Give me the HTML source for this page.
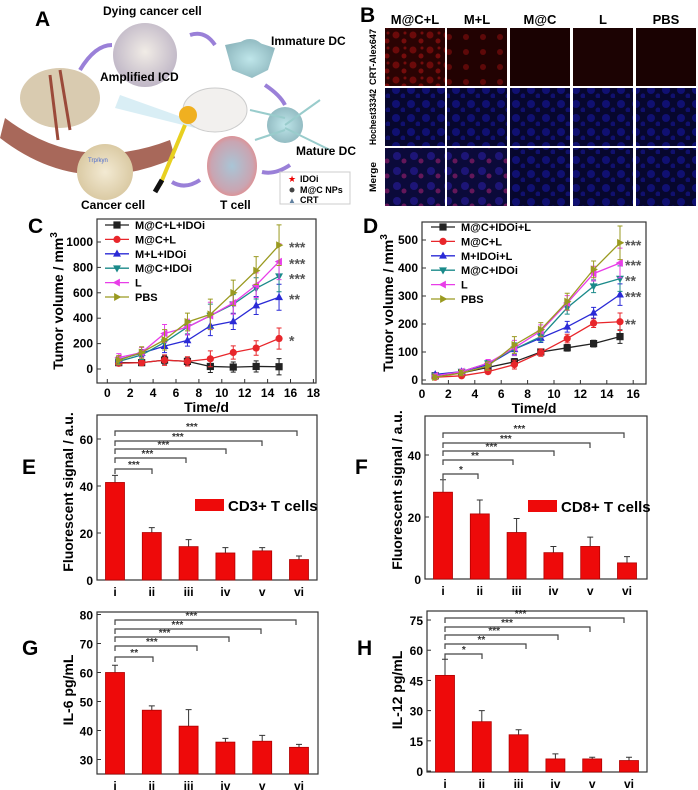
<!DOCTYPE html>
<html><head><meta charset="utf-8">
<style>
html,body{margin:0;padding:0;background:#fff;}
svg{display:block;font-family:"Liberation Sans",Arial,sans-serif;}
.pl{font-weight:bold;font-size:21px;}
.tk{font-weight:bold;font-size:12px;}
.tt{font-weight:bold;font-size:14px;}
.lg{font-weight:bold;font-size:11px;}
.an{font-weight:bold;font-size:12px;}
</style></head>
<body>
<svg id="fig" width="698" height="790" viewBox="0 0 698 790" xmlns="http://www.w3.org/2000/svg">
<defs>
<radialGradient id="gcell" cx="50%" cy="45%" r="55%"><stop offset="0" stop-color="#f1ece6"/><stop offset="1" stop-color="#bfb6c6"/></radialGradient>
<radialGradient id="gtc" cx="50%" cy="50%" r="55%"><stop offset="0" stop-color="#a9c5d6"/><stop offset="0.75" stop-color="#c9a5b2"/><stop offset="1" stop-color="#e68a8a"/></radialGradient>
<radialGradient id="gcc" cx="50%" cy="50%" r="55%"><stop offset="0" stop-color="#f3ead3"/><stop offset="1" stop-color="#d8c79f"/></radialGradient>
<radialGradient id="gdc" cx="50%" cy="50%" r="55%"><stop offset="0" stop-color="#bfe6ea"/><stop offset="1" stop-color="#8fb8bf"/></radialGradient>
<pattern id="pred" width="17" height="15" patternUnits="userSpaceOnUse"><rect width="17" height="15" fill="#2a0303"/><circle cx="5" cy="5" r="3.5" fill="#a01010" opacity=".55"/><circle cx="13" cy="11" r="2.5" fill="#c01515" opacity=".5"/><circle cx="14" cy="3" r="1.5" fill="#c01515" opacity=".5"/></pattern>
<pattern id="pred2" width="17" height="15" patternUnits="userSpaceOnUse"><rect width="17" height="15" fill="#220202"/><circle cx="7" cy="7" r="3" fill="#9a1010" opacity=".5"/></pattern>
<pattern id="pblue" width="15" height="14" patternUnits="userSpaceOnUse"><rect width="15" height="14" fill="#07072e"/><circle cx="6" cy="6" r="4" fill="#1616a0" opacity=".6"/><circle cx="13" cy="12" r="2.5" fill="#1a1ab0" opacity=".5"/></pattern>
<pattern id="pmerge" width="17" height="15" patternUnits="userSpaceOnUse"><rect width="17" height="15" fill="#0b0a3a"/><circle cx="6" cy="6" r="4" fill="#2a1ca0" opacity=".6"/><circle cx="13" cy="11" r="2.5" fill="#a02070" opacity=".6"/></pattern>
</defs>

<g>
<text class="pl" x="35" y="26">A</text>
<path d="M5,118 Q80,175 170,140 L175,158 Q80,200 0,138 Z" fill="#a8685a"/>
<ellipse cx="60" cy="98" rx="40" ry="30" fill="#d9cbb0"/>
<path d="M60,70 L70,130 M50,75 L58,140" stroke="#9b4a3a" stroke-width="3" fill="none"/>
<circle cx="145" cy="55" r="32" fill="url(#gcell)"/>
<path d="M120,95 L190,120 L195,128 L115,108 Z" fill="#bfe3ee" opacity=".6"/>
<ellipse cx="215" cy="110" rx="32" ry="22" fill="#f2f0ee" stroke="#ccc"/>
<circle cx="188" cy="115" r="9" fill="#f0b020"/>
<path d="M185,125 L160,185" stroke="#e8d020" stroke-width="4"/>
<path d="M162,180 L155,192" stroke="#111" stroke-width="5"/>
<g fill="url(#gdc)"><circle cx="250" cy="55" r="16"/><path d="M225,45 L250,40 L275,48 L268,70 L252,78 L232,70 Z"/></g>
<g fill="url(#gdc)"><circle cx="285" cy="125" r="18"/><path d="M250,110 L285,118 M320,100 L285,125 M255,140 L285,130 M330,150 L285,128" stroke="#9cc" stroke-width="2"/></g>
<ellipse cx="232" cy="166" rx="25" ry="30" fill="url(#gtc)"/>
<circle cx="105" cy="172" r="28" fill="url(#gcc)"/>
<text x="88" y="162" font-size="6" fill="#4a6ad0">Trp/kyn</text>
<g fill="none" stroke="#9a80d8" stroke-width="4">
<path d="M80,70 Q95,45 112,45"/><path d="M190,35 Q205,30 215,45"/><path d="M265,85 Q280,95 285,105"/><path d="M290,165 Q275,175 262,172"/><path d="M200,180 Q185,190 172,182"/>
</g>
<text class="an" x="103" y="15">Dying cancer cell</text>
<text class="an" x="271" y="45">Immature DC</text>
<text class="an" x="100" y="81">Amplified ICD</text>
<text class="an" x="296" y="155">Mature DC</text>
<text class="an" x="81" y="209">Cancer cell</text>
<text class="an" x="220" y="209">T cell</text>
<g>
<rect x="280" y="172" width="70" height="32" fill="#fff" stroke="#ccc"/>
<text x="288" y="182" font-size="9" fill="#e00">★</text><text x="300" y="182" font-size="9" font-weight="bold">IDOi</text>
<circle cx="292" cy="190" r="2.5" fill="#444"/><text x="300" y="193" font-size="9" font-weight="bold">M@C NPs</text>
<text x="288" y="203" font-size="8" fill="#6080a0">▲</text><text x="300" y="203" font-size="9" font-weight="bold">CRT</text>
</g>
</g>

<g id="panelB">
<text class="pl" x="360" y="22">B</text>
</g>

<g id="charts"></g>
</svg>

<script>
// ---------- Panel C data ----------
const cDays = [1, 3, 5, 7, 9, 11, 13, 15];
const cNames = ["M@C+L+IDOi", "M@C+L", "M+L+IDOi", "M@C+IDOi", "L", "PBS"];
const cBlack = [50, 50, 70, 60, 20, 15, 20, 18];
const cRed = [45, 50, 70, 60, 80, 130, 165, 240];
const cBlue = [75, 125, 180, 225, 340, 375, 500, 565];
const cTeal = [60, 110, 210, 330, 420, 510, 635, 730];
const cMagenta = [90, 130, 280, 330, 420, 520, 660, 845];
const cOlive = [70, 130, 230, 370, 430, 600, 775, 975];
const cErr = [35, 45, 80, 70, 120, 100, 110, 160];
const cStars = ["***", "***", "***", "**", "*"];
const cXTicks = [0, 2, 4, 6, 8, 10, 12, 14, 16, 18];
const cYTicks = [0, 200, 400, 600, 800, 1000];

// ---------- Panel D data ----------
const dDays = [1, 3, 5, 7, 9, 11, 13, 15];
const dNames = ["M@C+IDOi+L", "M@C+L", "M+IDOi+L", "M@C+IDOi", "L", "PBS"];
const dBlack = [15, 25, 45, 65, 100, 115, 130, 155];
const dRed = [10, 15, 30, 55, 98, 148, 203, 208];
const dBlue = [20, 30, 55, 110, 150, 190, 240, 305];
const dTeal = [15, 30, 60, 110, 155, 258, 335, 362];
const dMagenta = [15, 30, 60, 115, 175, 275, 380, 418];
const dOlive = [10, 25, 50, 125, 180, 280, 395, 490];
const dErr = [8, 10, 15, 30, 25, 30, 30, 60];
const dStars = ["***", "***", "**", "***", "**"];
const dXTicks = [0, 2, 4, 6, 8, 10, 12, 14, 16];
const dYTicks = [0, 100, 200, 300, 400, 500];

// ---------- Bar panels ----------
const groups = ["i", "ii", "iii", "iv", "v", "vi"];
const eVals = [41.5, 20.2, 14.2, 11.5, 12.4, 8.7];
const eErrTop = [44.5, 22.3, 17.2, 13.8, 13.8, 10.2];
const eSig = ["***", "***", "***", "***", "***"];
const eYTicks = [0, 20, 40, 60];
const fVals = [28, 21, 15, 8.5, 10.5, 5.2];
const fErrTop = [32, 25.5, 19.5, 10.5, 13.5, 7.2];
const fSig = ["*", "**", "***", "***", "***"];
const fYTicks = [0, 20, 40];
const gVals = [60, 47, 41.5, 36, 36.3, 34.2];
const gErrTop = [62.5, 48.5, 47.2, 37.3, 38.3, 35.2];
const gSig = ["**", "***", "***", "***", "***"];
const gYTicks = [30, 40, 50, 60, 70, 80];
const hVals = [47.5, 24.5, 18, 6, 6, 5.2];
const hErrTop = [55.5, 30, 20.5, 8.5, 6.8, 6.8];
const hSig = ["*", "**", "***", "***", "***"];
const hYTicks = [0, 15, 30, 45, 60, 75];

// ---------- Panel B ----------
const bCols = ["M@C+L", "M+L", "M@C", "L", "PBS"];
const bRows = ["CRT-Alex647", "Hochest33342", "Merge"];

const NS = "http://www.w3.org/2000/svg";
function mk(parent, tag, attrs, text) {
  const e = document.createElementNS(NS, tag);
  for (const k in attrs) e.setAttribute(k, attrs[k]);
  if (text !== undefined) e.textContent = text;
  parent.appendChild(e);
  return e;
}
const root = document.getElementById("charts");

(function () {
  const pb = document.getElementById("panelB");
  const colX = [385, 447, 510, 573, 636];
  const rowY = [28, 88, 148];
  const fills = [["url(#pred)", "url(#pred2)", "#1a0202", "#1c0303", "#1a0202"],
                 ["url(#pblue)", "url(#pblue)", "url(#pblue)", "url(#pblue)", "url(#pblue)"],
                 ["url(#pmerge)", "url(#pmerge)", "url(#pblue)", "url(#pblue)", "url(#pblue)"]];
  bCols.forEach((c, i) => {
    const t = mk(pb, "text", {x: colX[i] + 30, y: 24, "text-anchor": "middle", "font-size": 13, "font-weight": "bold"}, c);
    
    
  });
  bRows.forEach((r, j) => {
    const t = mk(pb, "text", {x: 0, y: 0, "text-anchor": "middle", "font-size": 9, "font-weight": "bold", textLength: r.length > 6 ? 56 : 30, lengthAdjust: "spacingAndGlyphs", transform: `translate(376,${rowY[j] + 29}) rotate(-90)`}, r);
    
    
    colX.forEach((x, i) => {
      const rc = mk(pb, "rect", {x: x, y: rowY[j], width: 60, height: 58, fill: fills[j][i]});
      
      
    });
  });
})();

function frame(g, x0, y0, x1, y1) {
  const r = mk(g, "rect", {x: x0, y: y0, width: x1 - x0, height: y1 - y0, fill: "none", stroke: "#333", "stroke-width": 1.2});
  
  
}
function marker(g, type, x, y, col) {
  const s = 3.6;
  let el;
  if (type === 0) el = mk(g, "rect", {x: x - s, y: y - s, width: 2 * s, height: 2 * s, fill: col});
  else if (type === 1) el = mk(g, "circle", {cx: x, cy: y, r: s, fill: col});
  else {
    const pts = {2: [[0, -1.2], [-1.1, .8], [1.1, .8]], 3: [[0, 1.2], [-1.1, -.8], [1.1, -.8]], 4: [[-1.2, 0], [.8, -1.1], [.8, 1.1]], 5: [[1.2, 0], [-.8, -1.1], [-.8, 1.1]]}[type];
    el = mk(g, "polygon", {points: pts.map(p => (x + p[0] * s) + "," + (y + p[1] * s)).join(" "), fill: col});
  }
  
  
}

const lineColors = ["#222222", "#e8262b", "#2a2ad6", "#1a8a8a", "#e83de8", "#9a9a20"];

function lineChart(cfg) {
  const g = mk(root, "g", {});
  
  
  const X = v => cfg.xa + v * cfg.xs, Y = v => cfg.ya - v * cfg.ys;
  frame(g, cfg.box[0], cfg.box[1], cfg.box[2], cfg.box[3]);
  cfg.xt.forEach(v => {
    mk(g, "line", {x1: X(v), x2: X(v), y1: cfg.box[3], y2: cfg.box[3] - 4, stroke: "#333"});
    const t = mk(g, "text", {x: X(v), y: cfg.box[3] + 14, "text-anchor": "middle", class: "tk"}, v);
    
    
  });
  cfg.yt.forEach(v => {
    mk(g, "line", {x1: cfg.box[0], x2: cfg.box[0] + 4, y1: Y(v), y2: Y(v), stroke: "#333"});
    const t = mk(g, "text", {x: cfg.box[0] - 4, y: Y(v) + 4, "text-anchor": "end", class: "tk"}, v);
    
    
  });
  cfg.series.forEach((s, k) => {
    const col = lineColors[k];
    s.forEach((v, i) => {
      const e = cfg.err[i] * (0.4 + 0.12 * k);
      mk(g, "path", {d: `M${X(cfg.days[i])},${Y(v - e)}V${Y(v + e)}M${X(cfg.days[i]) - 2.5},${Y(v + e)}h5M${X(cfg.days[i]) - 2.5},${Y(v - e)}h5`, stroke: col, "stroke-width": 1, fill: "none"});
    });
    const ln = mk(g, "polyline", {points: s.map((v, i) => X(cfg.days[i]) + "," + Y(v)).join(" "), fill: "none", stroke: col, "stroke-width": 1.3});
    
    
    s.forEach((v, i) => marker(g, k, X(cfg.days[i]), Y(v), col));
    const ly = cfg.leg[1] + k * 14.4;
    mk(g, "line", {x1: cfg.leg[0], x2: cfg.leg[0] + 24, y1: ly, y2: ly, stroke: col, "stroke-width": 1.3});
    marker(g, k, cfg.leg[0] + 12, ly, col);
    const t = mk(g, "text", {x: cfg.leg[0] + 30, y: ly + 4, class: "lg"}, cfg.names[k]);
    
    
  });
  [5, 4, 3, 2, 1].forEach((k, j) => {
    const last = cfg.series[k][cfg.series[k].length - 1];
    const t = mk(g, "text", {x: cfg.starX, y: Y(last) + 7, "font-size": 14, fill: "#555", "font-weight": "bold"}, cfg.stars[j]);
    
    
  });
  const xt = mk(g, "text", {x: (cfg.box[0] + cfg.box[2]) / 2, y: cfg.box[3] + 29, "text-anchor": "middle", class: "tt"}, "Time/d");
  
  
  const yt = mk(g, "text", {x: 0, y: 0, "text-anchor": "middle", class: "tt", "font-size": 15, transform: `translate(${cfg.ytx},${(cfg.box[1] + cfg.box[3]) / 2}) rotate(-90)`});
  
  
  yt.textContent = "Tumor volume / mm";
  mk(yt, "tspan", {dy: -6, "font-size": 10}, "3");
  const pl = mk(g, "text", {x: cfg.lab[0], y: cfg.lab[1], class: "pl"}, cfg.label);
  
  
}

lineChart({name: "panel-c-tumor-growth", label: "C", lab: [28, 233], box: [97, 219, 316, 383], xa: 107.3, xs: 11.45, ya: 369, ys: 0.127,
  xt: cXTicks, yt: cYTicks, days: cDays, series: [cBlack, cRed, cBlue, cTeal, cMagenta, cOlive], err: cErr, names: cNames,
  leg: [105, 225], stars: cStars, starX: 289, ytx: 63});
lineChart({name: "panel-d-tumor-growth", label: "D", lab: [363, 233], box: [422, 222, 646, 384], xa: 422, xs: 13.2, ya: 380, ys: 0.28,
  xt: dXTicks, yt: dYTicks, days: dDays, series: [dBlack, dRed, dBlue, dTeal, dMagenta, dOlive], err: dErr, names: dNames,
  leg: [431, 227], stars: dStars, starX: 625, ytx: 393});

function barChart(cfg) {
  const g = mk(root, "g", {});
  
  
  const Y = v => cfg.y0 - (v - cfg.vmin) * cfg.ys;
  const X = i => cfg.x0 + i * cfg.dx;
  frame(g, cfg.box[0], cfg.box[1], cfg.box[2], cfg.box[3]);
  cfg.yt.forEach(v => {
    mk(g, "line", {x1: cfg.box[0], x2: cfg.box[0] + 4, y1: Y(v), y2: Y(v), stroke: "#333"});
    const t = mk(g, "text", {x: cfg.box[0] - 4, y: Y(v) + 5, "text-anchor": "end", class: "tk", "font-size": 13}, v);
    
    
  });
  groups.forEach((gname, i) => {
    const t = mk(g, "text", {x: X(i), y: cfg.box[3] + 16, "text-anchor": "middle", class: "tk", "font-size": 13}, gname);
    
    
    const top = cfg.err[i];
    mk(g, "path", {d: `M${X(i)},${Y(cfg.vals[i])}V${Y(top)}M${X(i) - 3},${Y(top)}h6`, stroke: "#333", "stroke-width": 1});
    const b = mk(g, "rect", {x: X(i) - 9.5, y: Y(cfg.vals[i]), width: 19, height: cfg.box[3] - Y(cfg.vals[i]), fill: "#ee0a0a", stroke: "#b00000", "stroke-width": 0.8});
    
    
  });
  cfg.sig.forEach((s, j) => {
    const by = cfg.brY[j], xe = cfg.brEnd[j];
    const br = mk(g, "path", {d: `M${X(0)},${by + 5}V${by}H${xe}V${by + 5}`, stroke: "#444", "stroke-width": 1.2, fill: "none"});
    
    
    const t = mk(g, "text", {x: X(0) + (xe - X(0)) * 0.4 + 4, y: by - 1, "text-anchor": "middle", "font-size": 10, "font-weight": "bold", fill: "#333"}, s);
    
    
  });
  if (cfg.legend) {
    const r = mk(g, "rect", {x: cfg.legend[0], y: cfg.legend[1], width: 29, height: 12, fill: "#ee0a0a"});
    
    
    const t = mk(g, "text", {x: cfg.legend[0] + 33, y: cfg.legend[1] + 12, "font-size": 15, "font-weight": "bold"}, cfg.legend[2]);
    
    
  }
  const yt = mk(g, "text", {x: 0, y: 0, "text-anchor": "middle", class: "tt", "font-size": 15, transform: `translate(${cfg.ytx},${cfg.ytc}) rotate(-90)`}, cfg.ytitle);
  
  
  const pl = mk(g, "text", {x: cfg.lab[0], y: cfg.lab[1], class: "pl"}, cfg.label);
  
  
}

barChart({name: "panel-e-cd3", label: "E", lab: [22, 474], box: [97, 415, 317, 580], y0: 580, ys: 2.35, vmin: 0, yt: eYTicks,
  x0: 115, dx: 36.8, vals: eVals, err: eErrTop, sig: eSig, brY: [469, 458, 449, 441, 431], brEnd: [152, 186, 226, 262, 297],
  legend: [195, 499, "CD3+ T cells"], ytitle: "Fluorescent signal / a.u.", ytx: 73, ytc: 492});
barChart({name: "panel-f-cd8", label: "F", lab: [355, 474], box: [425, 416, 647, 579], y0: 579, ys: 3.1, vmin: 0, yt: fYTicks,
  x0: 443, dx: 36.8, vals: fVals, err: fErrTop, sig: fSig, brY: [474, 460, 451, 443, 433], brEnd: [478, 513, 554, 590, 624],
  legend: [528, 500, "CD8+ T cells"], ytitle: "Fluorescent signal / a.u.", ytx: 402, ytc: 490});
barChart({name: "panel-g-il6", label: "G", lab: [22, 655], box: [97, 612, 318, 774], y0: 774, ys: 2.9, vmin: 25, yt: gYTicks,
  x0: 115, dx: 36.8, vals: gVals, err: gErrTop, sig: gSig, brY: [657, 646, 637, 629, 620], brEnd: [153, 197, 229, 261, 296],
  ytitle: "IL-6 pg/mL", ytx: 73, ytc: 690});
barChart({name: "panel-h-il12", label: "H", lab: [357, 655], box: [427, 611, 647, 772], y0: 771, ys: 2.013, vmin: 0, yt: hYTicks,
  x0: 445, dx: 36.8, vals: hVals, err: hErrTop, sig: hSig, brY: [654, 644, 635, 627, 618], brEnd: [482, 526, 558, 590, 624],
  ytitle: "IL-12 pg/mL", ytx: 402, ytc: 690});
</script>
</body></html>
